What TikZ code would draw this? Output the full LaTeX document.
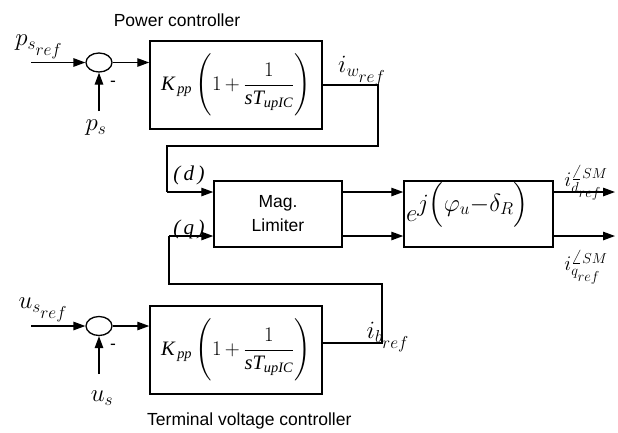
\documentclass[tikz,border=0pt]{standalone}
\usepackage{amsmath}
\usepackage{fontspec}
\setmainfont{Liberation Serif}
\setsansfont{Liberation Sans}
\usetikzlibrary{arrows.meta,shapes.geometric}
\newcommand{\tit}[1]{\textit{#1}}
\newcommand{\pictf}{\fontsize{20.5}{24}\selectfont$\tit{K}_{\,\tit{pp}}\left(\vcenter{\hbox{\rule{0pt}{64pt}}}1\,{+}\,\dfrac{1}{\tit{sT}_{\tit{upIC}}}\right)$}
\begin{document}
\begin{tikzpicture}[x=1pt,y=-1pt,
  ln/.style={line width=1.3pt},
  arr/.style={line width=1.3pt,-{Triangle[length=12pt,width=8.5pt]}},
  blk/.style={draw,line width=1.5pt,rectangle,inner sep=0pt},
  sumj/.style={draw,ellipse,line width=1.3pt,minimum width=26pt,minimum height=19pt,inner sep=0pt},
  lbl/.style={inner sep=0pt,font=\fontsize{25}{28}\selectfont},
  plbl/.style={inner sep=0pt,font=\fontsize{21}{24}\selectfont\itshape},
  ttl/.style={font=\sffamily\fontsize{17.5}{24}\selectfont,inner sep=0pt,align=center}]
\useasboundingbox (0,0) rectangle (618,432);

% titles
\node[ttl,anchor=base] (t1) at (177,26) {Power controller};
\node[ttl,anchor=base west] (t2) at (147,425) {Terminal voltage controller};

% summing junctions
\node[sumj] (s1) at (99,62.5) {};
\node[sumj] (s2) at (99,326) {};

% blocks
\node[blk,minimum width=172pt,minimum height=88pt] (b1) at (236,85) {\pictf};
\node[blk,minimum width=172pt,minimum height=88pt] (b2) at (236,350) {\pictf};
\node[blk,minimum width=128pt,minimum height=66pt,ttl] (lim) at (278,214) {Mag.\\Limiter};
\node[blk,minimum width=149pt,minimum height=66pt] (ex) at (478.5,214) {};

% input coordinates
\coordinate (pin) at (31,62.5);
\coordinate (pfb) at (99,111);
\coordinate (uin) at (31,326);
\coordinate (ufb) at (99,374);

\draw[arr] (pin) -- (s1.west);
\draw[arr] (pfb) -- (s1.south);
\draw[arr] (s1.east) -- (b1.west |- s1.east);
\draw[arr] (uin) -- (s2.west);
\draw[arr] (ufb) -- (s2.south);
\draw[arr] (s2.east) -- (b2.west |- s2.east);

% feedback routes to limiter
\coordinate (d1) at (378,85);
\coordinate (d2) at (378,146);
\coordinate (d3) at (167,146);
\coordinate (d4) at (167,192);
\coordinate (q1) at (382,343);
\coordinate (q2) at (382,284);
\coordinate (q3) at (169,284);
\coordinate (q4) at (169,236);
\draw[ln] (b1.east) -- (d1) -- (d2) -- (d3) -- (d4);
\draw[arr] (d4) -- (lim.west |- d4);
\draw[ln] (b2.east |- q1) -- (q1) -- (q2) -- (q3) -- (q4);
\draw[arr] (q4) -- (lim.west |- q4);

% limiter to rotation block
\draw[arr] (lim.east |- d4) -- (ex.west |- d4);
\draw[arr] (lim.east |- q4) -- (ex.west |- q4);
\coordinate (o1) at (615,192);
\coordinate (o2) at (615,236);
\draw[arr] (ex.east |- o1) -- (o1);
\draw[arr] (ex.east |- o2) -- (o2);

% labels
\node[lbl] (lpsr) at (39,47) {$p_{s_{\scriptstyle ref}}$};
\node[lbl] (lps) at (96,128) {$p_{s}$};
\node[lbl] (lusr) at (43,310) {$u_{s_{\scriptstyle ref}}$};
\node[lbl] (lus) at (102,398) {$u_{s}$};
\node[lbl] (liw) at (362,71) {$i_{w_{\scriptstyle ref}}$};
\node[lbl] (lib) at (388,337) {$i_{b_{\scriptstyle ref}}$};
\node[lbl,font=\fontsize{22}{26}\selectfont] (lid) at (586,183) {$i^{\angle SM}_{d_{\scriptstyle ref}}$};
\node[lbl,font=\fontsize{22}{26}\selectfont] (liq) at (586,267) {$i^{\angle SM}_{q_{\scriptstyle ref}}$};
\node[plbl] (ld) at (189,175) {(\,d\,)};
\node[plbl] (lq) at (189,229) {(\,q\,)};
\node[ttl] (m1) at (113,84) {-};
\node[ttl] (m2) at (113,347) {-};
\node[inner sep=0pt,anchor=base west] (lex) at (406,221) {\fontsize{26}{30}\selectfont$e$\raisebox{10pt}{\fontsize{24}{28}\selectfont$j\Bigl(\varphi_u{-}\delta_R\Bigr)$}};
\end{tikzpicture}
\end{document}
